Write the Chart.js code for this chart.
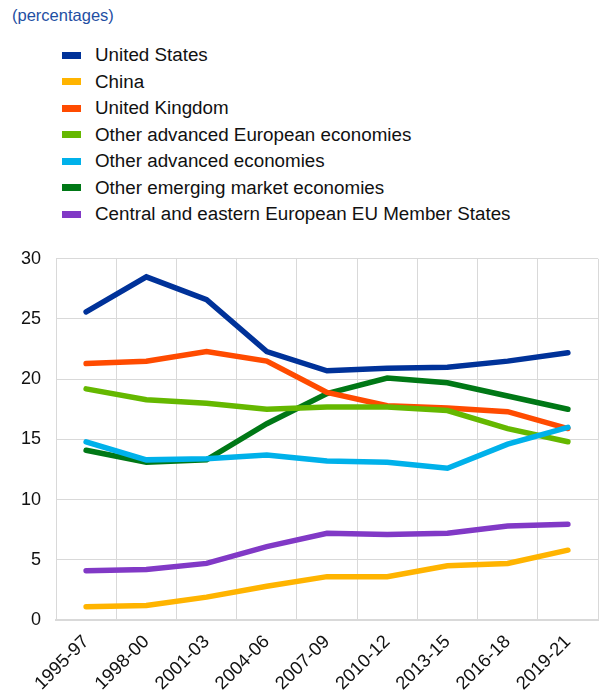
<!DOCTYPE html>
<html>
<head>
<meta charset="utf-8">
<script src="https://cdn.jsdelivr.net/npm/chart.js@4"></script>
<style>
    body { margin: 0; background: #fff; font-family: "Liberation Sans", Arial, sans-serif; }
    #wrap { position: relative; width: 599px; height: 693px; }
    #title { position: absolute; left: 12px; top: 6px; font-size: 16.5px; color: #1f4fa3; }
    #legend { position: absolute; left: 62px; top: 42px; }
    .item { height: 26.5px; display: flex; align-items: center; font-size: 18.8px; color: #111; }
    .swatch { width: 19px; height: 7px; margin-right: 14px; }
    #box { position: absolute; left: 0; top: 233px; width: 599px; height: 460px; }
</style>
</head>
<body>
<div id="wrap">
    <div id="title">(percentages)</div>
    <div id="legend"></div>
    <div id="box"><canvas id="lineChart"></canvas></div>
</div>
<script>
// Categories and series
const periods = ['1995-97', '1998-00', '2001-03', '2004-06', '2007-09', '2010-12', '2013-15', '2016-18', '2019-21'];
const unitedStates = [25.6, 28.5, 26.6, 22.3, 20.7, 20.9, 21.0, 21.5, 22.2];
const china = [1.1, 1.2, 1.9, 2.8, 3.6, 3.6, 4.5, 4.7, 5.8];
const unitedKingdom = [21.3, 21.5, 22.3, 21.5, 18.9, 17.8, 17.6, 17.3, 15.9];
const otherAdvEuropean = [19.2, 18.3, 18.0, 17.5, 17.7, 17.7, 17.4, 15.9, 14.8];
const otherAdvanced = [14.8, 13.3, 13.4, 13.7, 13.2, 13.1, 12.6, 14.6, 16.0];
const otherEmerging = [14.1, 13.1, 13.3, 16.3, 18.8, 20.1, 19.7, 18.6, 17.5];
const centralEastern = [4.1, 4.2, 4.7, 6.1, 7.2, 7.1, 7.2, 7.8, 7.95];
const yTicks = [0, 5, 10, 15, 20, 25, 30];

const series = [
    { label: 'United States', data: unitedStates, color: '#003299' },
    { label: 'China', data: china, color: '#ffb400' },
    { label: 'United Kingdom', data: unitedKingdom, color: '#ff4b00' },
    { label: 'Other advanced European economies', data: otherAdvEuropean, color: '#65b800' },
    { label: 'Other advanced economies', data: otherAdvanced, color: '#00b1ea' },
    { label: 'Other emerging market economies', data: otherEmerging, color: '#007816' },
    { label: 'Central and eastern European EU Member States', data: centralEastern, color: '#8139c6' }
];

// Build legend
const legend = document.getElementById('legend');
series.forEach(s => {
    const item = document.createElement('div');
    item.className = 'item';
    item.innerHTML = `<span class="swatch" style="background:${s.color}"></span>${s.label}`;
    legend.appendChild(item);
});

// Draw order: later datasets on top, matching the reference
const drawOrder = [6, 1, 4, 3, 2, 5, 0];

const ctx = document.getElementById('lineChart').getContext('2d');
new Chart(ctx, {
    type: 'line',
    data: {
        labels: periods,
        datasets: series.map((s, i) => ({
            label: s.label,
            data: s.data,
            borderColor: s.color,
            backgroundColor: s.color,
            borderWidth: 5.5,
            pointRadius: 0,
            tension: 0,
            borderCapStyle: 'round',
            order: drawOrder.indexOf(i)
        }))
    },
    options: {
        responsive: true,
        maintainAspectRatio: false,
        animation: false,
        layout: { padding: { top: 13, right: 1, left: 0, bottom: 0 } },
        plugins: {
            legend: { display: false },
            tooltip: { enabled: false }
        },
        scales: {
            x: {
                offset: true,
                grid: { offset: true, color: '#d9d9d9', drawTicks: false },
                border: { color: '#d9d9d9', width: 2 },
                ticks: {
                    color: '#111',
                    font: { family: 'Liberation Sans', size: 18.5 },
                    maxRotation: 45,
                    minRotation: 45,
                    padding: 11
                },
                afterFit: scale => { scale.height = 73; }
            },
            y: {
                min: 0,
                max: 30,
                afterBuildTicks: scale => { scale.ticks = yTicks.map(v => ({ value: v })); },
                grid: { color: '#d9d9d9', drawTicks: false },
                border: { display: false },
                ticks: {
                    color: '#111',
                    font: { family: 'Liberation Sans', size: 18 },
                    padding: 15
                },
                afterFit: scale => { scale.width = 56; }
            }
        }
    }
});
</script>
</body>
</html>
